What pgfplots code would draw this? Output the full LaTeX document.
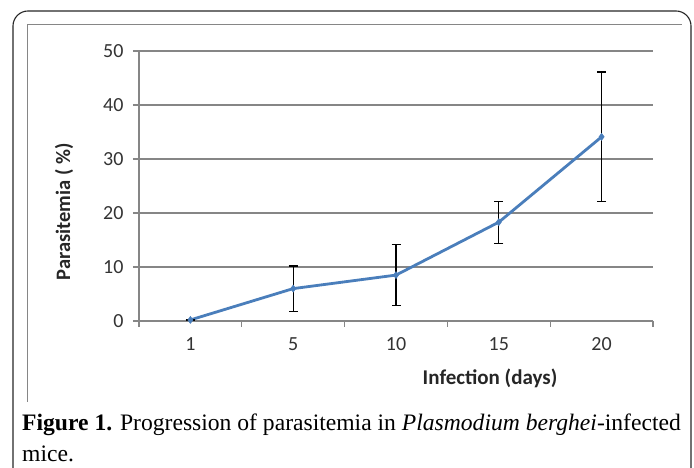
\documentclass[border=0pt]{standalone}
\usepackage{fontspec}
\setmainfont{Liberation Serif}
\newfontfamily\calfont{Carlito}
\usepackage{pgfplots}
\pgfplotsset{compat=1.18}
\definecolor{exblue}{HTML}{4A7EBB}
\definecolor{gridgray}{HTML}{868686}
\begin{document}
\begin{tikzpicture}[x=1pt,y=1pt]
\useasboundingbox (0,0) rectangle (694,468);
% outer rounded frame (open at bottom)
\draw[line width=1.1pt, black!85, rounded corners=15pt] (13,-20) -- (13,457) -- (691,457) -- (691,-20);
% inner chart frame
\draw[line width=1pt, gridgray] (27,66) -- (27,443.5) -- (682,443.5);
\begin{axis}[
  at={(139pt,147pt)}, anchor=south west,
  scale only axis, width=514pt, height=270pt,
  xmin=0.5, xmax=5.5, ymin=0, ymax=50,
  axis x line*=bottom, axis y line*=left,
  axis line style={gridgray, line width=1.1pt},
  xtick={1,2,3,4,5}, xticklabels={1,5,10,15,20},
  minor xtick={0.5,1.5,2.5,3.5,4.5,5.5},
  ytick={0,10,20,30,40,50},
  ymajorgrids, major grid style={gridgray, line width=1.1pt},
  tick align=outside,
  major x tick style={draw=none},
  minor x tick style={gridgray, line width=1.1pt},
  major y tick style={gridgray, line width=1.1pt},
  major tick length=6pt, minor tick length=6pt,
  tick label style={font=\calfont\fontsize{20}{24}\selectfont, text=black!80},
  yticklabel style={xshift=-6pt},
  xticklabel style={yshift=-7pt},
  /pgf/number format/assume math mode=true,
  clip=false,
]
\addplot[exblue, line width=2.8pt, mark=diamond*, mark size=3.5pt, mark options={line width=0.5pt},
  error bars/.cd, y dir=both, y explicit,
  error bar style={black, line width=1.2pt},
  error mark options={rotate=90, mark size=4.5pt, line width=1.2pt, black}]
table[x=x, y=y, y error=e] {
x y e
1 0.2 0
2 6.0 4.2
3 8.5 5.6
4 18.3 3.9
5 34.1 12.0
};
\end{axis}
\node[rotate=90, font=\calfont\bfseries\fontsize{20.5}{24}\selectfont, text=black!85] at (64,256) {Parasitemia ( \%)};
\node[font=\calfont\bfseries\fontsize{21}{24}\selectfont, text=black!85] at (490,90) {Infection (days)};
\node[anchor=base west, inner sep=0pt, font=\fontsize{23.6}{28}\selectfont] at (22,37) {\textbf{Figure 1.} Progression of parasitemia in \textit{Plasmodium berghei}-infected};
\node[anchor=base west, inner sep=0pt, font=\fontsize{23.6}{28}\selectfont] at (22,6) {mice.};
\end{tikzpicture}
\end{document}
